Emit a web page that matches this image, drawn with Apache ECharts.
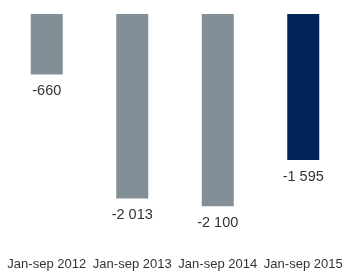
<!DOCTYPE html>
<html>
<head>
<meta charset="utf-8">
<script src="https://cdn.jsdelivr.net/npm/echarts@6/dist/echarts.min.js"></script>
<style>
  html, body { margin: 0; padding: 0; background: #fff; }
  #chart { width: 346px; height: 271px; }
</style>
</head>
<body>
<div id="chart"></div>
<script>
const categories = ['Jan-sep 2012', 'Jan-sep 2013', 'Jan-sep 2014', 'Jan-sep 2015'];
const values = [-660, -2013, -2100, -1595];
const barColors = ['#838f97', '#838f97', '#838f97', '#00245a'];

// "-2 013" style, space as thousands separator
const fmt = v => {
  const s = Math.abs(v).toString().replace(/\B(?=(\d{3})+(?!\d))/g, ' ');
  return (v < 0 ? '-' : '') + s;
};

const chart = echarts.init(document.getElementById('chart'));

chart.setOption({
  animation: false,
  grid: { left: 4, right: -4, top: 14, height: 236 },
  xAxis: {
    type: 'category',
    data: categories,
    position: 'bottom',
    axisLine: { show: false },
    axisTick: { show: false },
    axisLabel: {
      interval: 0,
      margin: 15,
      fontFamily: 'Liberation Sans',
      fontSize: 13,
      color: '#333'
    }
  },
  yAxis: {
    type: 'value',
    min: -2500,
    max: 0,
    show: false,
    splitLine: { show: false }
  },
  series: [{
    type: 'bar',
    barWidth: 32,
    data: values.map((v, i) => ({ value: v, itemStyle: { color: barColors[i] } })),
    label: {
      show: true,
      position: 'bottom',
      distance: 9,
      fontFamily: 'Liberation Sans',
      fontSize: 14.5,
      color: '#333',
      formatter: p => fmt(p.value)
    }
  }]
});

window.addEventListener('resize', function() {
  chart.resize();
});
</script>
</body>
</html>
